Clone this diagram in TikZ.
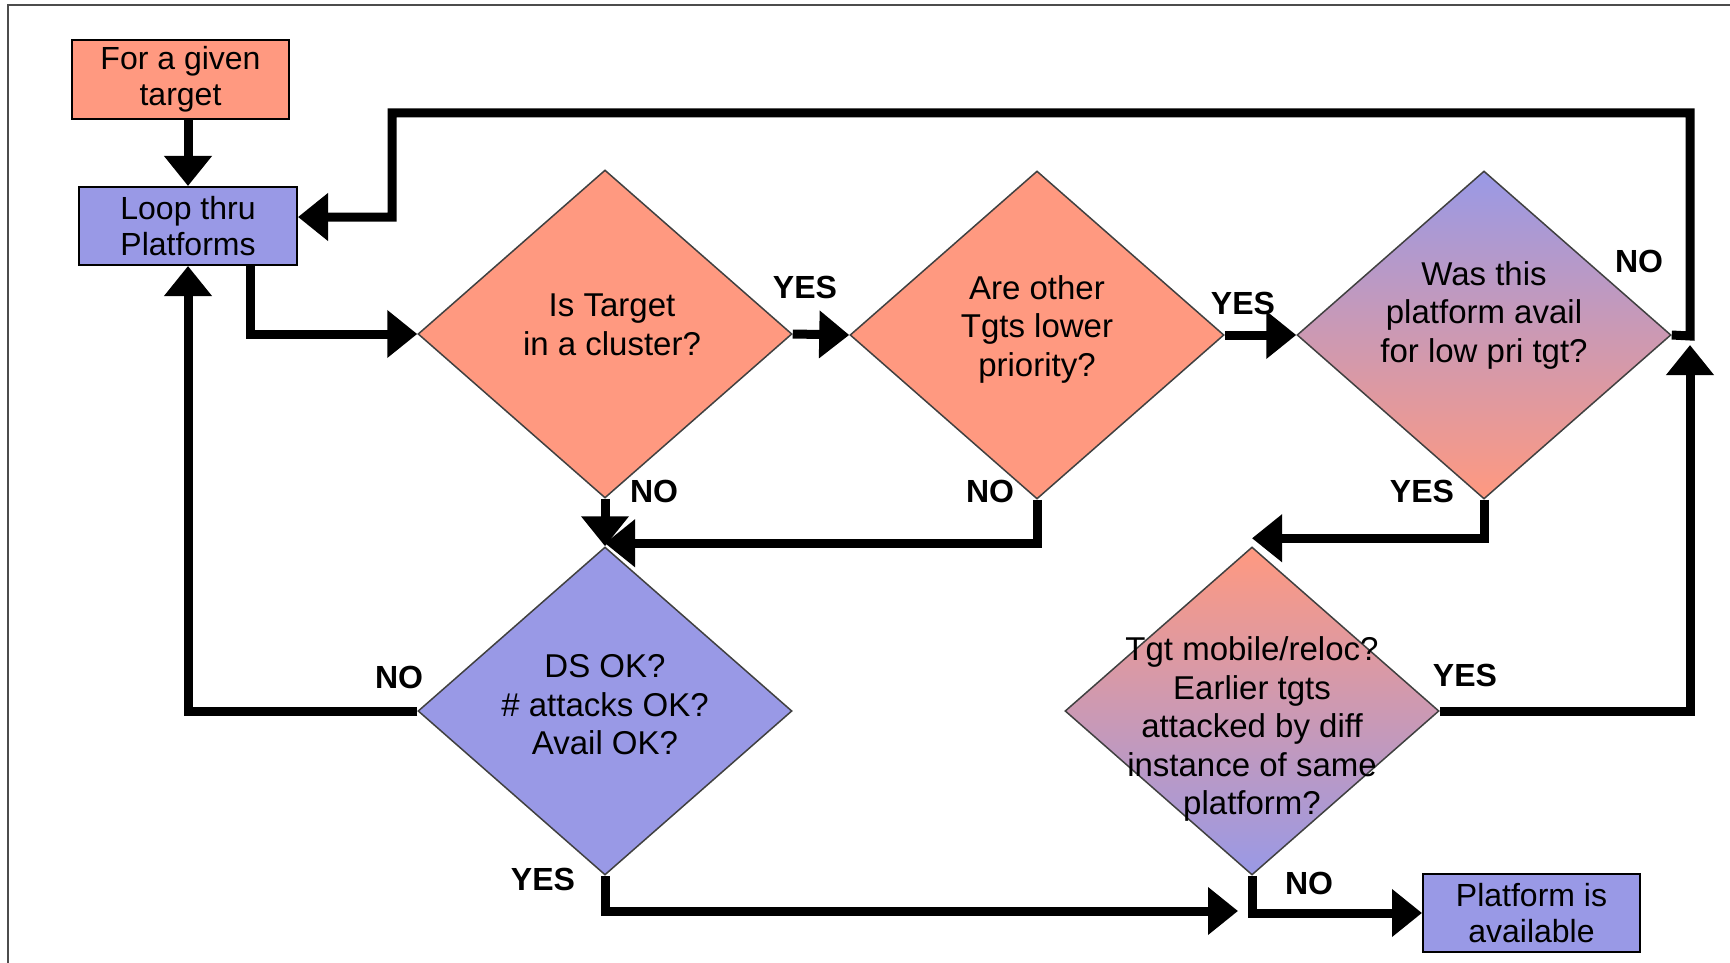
\documentclass[tikz,border=0pt]{standalone}
\usepackage{fontspec}
\setmainfont{Liberation Sans}
\usetikzlibrary{shapes.geometric,arrows.meta}
\definecolor{salmon}{RGB}{255,153,128}
\definecolor{bluev}{RGB}{153,153,230}
\begin{document}
\begin{tikzpicture}[x=1pt,y=-1pt,
 box/.style={draw=black,line width=2pt,minimum width=217pt,minimum height=79pt,inner sep=0pt,align=center,font=\fontsize{32}{36}\selectfont},
 dia/.style={diamond,draw=black!75,line width=1.5pt,minimum width=374pt,minimum height=328pt,inner sep=0pt},
 dtext/.style={align=center,font=\fontsize{33}{38.5}\selectfont,inner sep=0pt},
 lbl/.style={font=\fontsize{32}{36}\bfseries\selectfont,inner sep=0pt},
 arr/.style={line width=9pt,-{Triangle[width=46pt,length=30pt]}}]
\useasboundingbox (0,0) rectangle (1730,963);
\fill[white] (0,0) rectangle (1730,963);
% frame
\draw[line width=2pt,black!70] (8,963) -- (8,5) -- (1730,5);
% boxes
\node[box,fill=salmon] (target) at (180.5,79.5) {For a given\\target};
\node[box,fill=bluev,minimum width=218pt,minimum height=78pt] (loop) at (188,226) {Loop thru\\Platforms};
\node[box,fill=bluev,minimum height=78pt] (avail) at (1531.5,913) {Platform is\\available};
% diamonds
\node[dia,fill=salmon] (d1) at (605,334) {};
\node[dia,fill=salmon] (d2) at (1037,335) {};
\node[dia,top color=bluev,bottom color=salmon] (d3) at (1484,335) {};
\node[dia,fill=bluev] (d4) at (605,711) {};
\node[dia,top color=salmon,bottom color=bluev] (d5) at (1252,711) {};
% diamond texts
\node[dtext] (t1) at (612,325) {Is Target\\in a cluster?};
\node[dtext] (t2) at (1037,329) {Are other\\Tgts lower\\priority?};
\node[dtext] (t3) at (1484,315) {Was this\\platform avail\\for low pri tgt?};
\node[dtext] (t4) at (605,705) {DS OK?\\\# attacks OK?\\Avail OK?};
\node[dtext] (t5) at (1252,729) {Tgt mobile/reloc?\\Earlier tgts\\attacked by diff\\instance of same\\platform?};
% labels
\node[lbl] (l1) at (805,287) {YES};
\node[lbl] (l2) at (1243,303) {YES};
\node[lbl] (l3) at (654,491) {NO};
\node[lbl] (l4) at (990,491) {NO};
\node[lbl] (l5) at (1422,491) {YES};
\node[lbl] (l6) at (1639,261) {NO};
\node[lbl] (l7) at (399,677) {NO};
\node[lbl] (l8) at (543,879) {YES};
\node[lbl] (l9) at (1465,675) {YES};
\node[lbl] (l10) at (1309,883) {NO};
% helper coordinates
\coordinate (jn) at (1690,336);
\coordinate (tr) at (1690,113);
\coordinate (tl) at (392,113);
\coordinate (tm) at (392,217);
\coordinate (m) at (1238,911);
% connectors
\draw[arr] (loop.north |- target.south) -- (loop.north);
\draw[arr] ([xshift=62pt]loop.south) |- (d1.west);
\draw[arr] (d1.east) -- (d2.west);
\draw[arr] (d2.east) -- (d3.west);
\draw[arr] (d1.south) -- (d4.north);
\draw[arr] (d2.south) |- ([yshift=3pt]d4.north);
\draw[arr] (d3.south) |- ([yshift=8pt]d5.north);
\draw[arr] (d3.east) -- (jn) -- (tr) -- (tl) -- (tm) -- (tm -| loop.east);
\draw[arr] (d5.east) -| ([yshift=-9pt]jn);
\draw[arr] (d4.west) -| (loop.south);
\draw[arr] (d4.south) |- (m);
\draw[arr] (d5.south) |- (avail.west);
\end{tikzpicture}
\end{document}
